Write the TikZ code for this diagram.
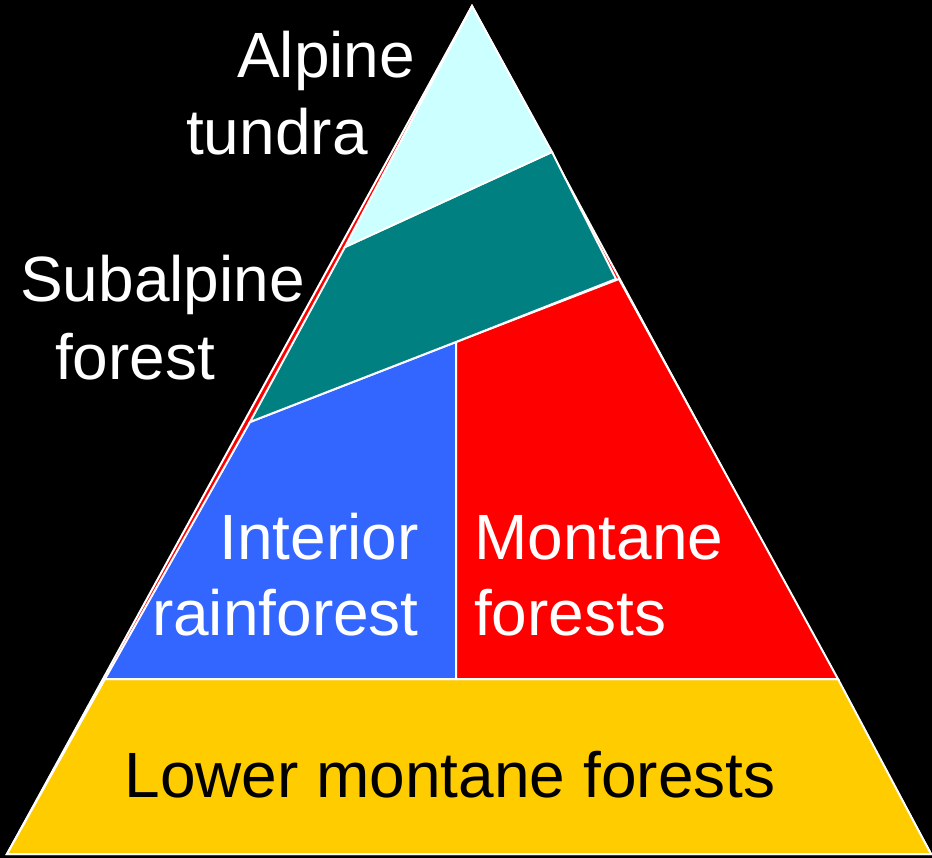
\documentclass[tikz,border=0pt]{standalone}
\usepackage{fontspec}
\setmainfont{Liberation Sans}
\begin{document}
\begin{tikzpicture}[x=1pt,y=-1pt,
  zone/.style={draw=white,line width=2pt,line join=miter},
  lbl/.style={inner sep=0pt,text=white,font=\fontsize{64}{74}\selectfont},
  dlbl/.style={lbl,text=black}]
\fill[black] (0,0) rectangle (932,858);
\useasboundingbox (0,0) rectangle (932,858);
\definecolor{alpc}{HTML}{CCFFFF}
\definecolor{subc}{HTML}{008080}
\definecolor{intc}{HTML}{3366FF}
\definecolor{monc}{HTML}{FF0000}
\definecolor{lowc}{HTML}{FFCC00}
% corners
\coordinate (apex) at (472,6);
\coordinate (bl) at (7,854);
\coordinate (br) at (931,854);
% outer triangle (red underlay)
\path[zone,fill=monc] (apex) -- (bl) -- (br) -- cycle;
% lower montane forests
\path[zone,fill=lowc] (105,679) -- (bl) -- (br) -- (838,679) -- cycle;
% interior rainforest
\path[zone,fill=intc] (250,422) -- (456,342) -- (456,679) -- (105,679) -- cycle;
% montane forests
\path[zone,fill=monc] (456,342) -- (619,279) -- (838,679) -- (456,679) -- cycle;
% subalpine forest
\path[zone,fill=subc] (345,247) -- (552,152) -- (616,279) -- (456,342) -- (250,422) -- cycle;
% alpine tundra
\path[zone,fill=alpc] (apex) -- (552,152) -- (345,247) -- cycle;
% labels
\node[lbl,anchor=base west] (alp) at (237,78) {Alpine};
\node[lbl,anchor=base west] (tun) at (186,155) {tundra};
\node[lbl,anchor=base west] (sub) at (20,302) {Subalpine};
\node[lbl,anchor=base west] (sfo) at (55,380) {forest};
\node[lbl,anchor=base east] (int) at (419,559) {Interior};
\node[lbl,anchor=base east] (rai) at (419,635) {rainforest};
\node[lbl,anchor=base west] (mon) at (474,559) {Montane};
\node[lbl,anchor=base west] (mfo) at (474,635) {forests};
\node[dlbl,anchor=base] (low) at (450,797) {Lower montane forests};
\end{tikzpicture}
\end{document}
